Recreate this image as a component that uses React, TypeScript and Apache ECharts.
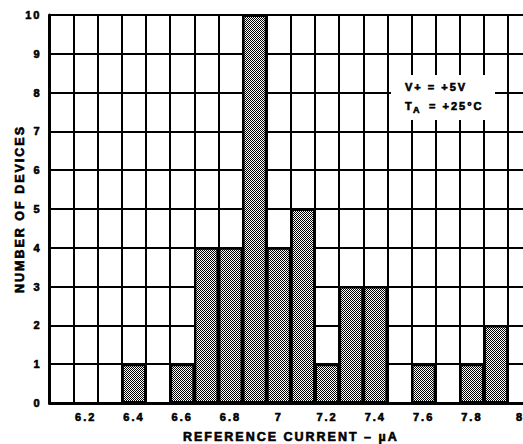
import React, { useEffect, useRef } from "react";
import * as echarts from "echarts";

const categories = [
  "6.1", "6.2", "6.3", "6.4", "6.5", "6.6", "6.7", "6.8", "6.9", "7",
  "7.1", "7.2", "7.3", "7.4", "7.5", "7.6", "7.7", "7.8", "7.9", "8",
];
const deviceCounts = [0, 0, 0, 1, 0, 1, 4, 4, 10, 4, 5, 1, 3, 3, 0, 1, 0, 1, 2, 0];
const yMin = 0;
const yMax = 10;
const yInterval = 1;
const xTitle = "REFERENCE CURRENT – µA";
const yTitle = "NUMBER OF DEVICES";
const noteLine1 = "V+ = +5V";
const noteLine2T = "T";
const noteLine2Sub = "A";
const noteLine2Rest = "= +25°C";

const FONT = "'Liberation Sans', Arial, Helvetica, sans-serif";

export default function App() {
  const ref = useRef<HTMLDivElement>(null);

  useEffect(() => {
    if (!ref.current) return;
    const chart = echarts.init(ref.current, null, { renderer: "svg" });

    const cv = document.createElement("canvas");
    cv.width = 2;
    cv.height = 2;
    const ctx = cv.getContext("2d")!;
    ctx.fillStyle = "#ffffff";
    ctx.fillRect(0, 0, 2, 2);
    ctx.fillStyle = "#000000";
    ctx.fillRect(0, 0, 1, 1);
    ctx.fillRect(1, 1, 1, 1);

    const textBase = {
      color: "#000",
      fontFamily: FONT,
      fontWeight: "bold" as const,
      textBorderColor: "#000",
      textBorderWidth: 0.6,
    };
    const noteStyle = {
      fill: "#000",
      stroke: "#000",
      lineWidth: 0.6,
      verticalAlign: "middle" as const,
    };

    chart.setOption({
      animation: false,
      backgroundColor: "#ffffff",
      grid: {
        left: 49.5,
        right: -9.2,
        top: 15,
        bottom: 41,
        containLabel: false,
        outerBoundsMode: "none",
      },
      xAxis: {
        type: "category",
        data: categories,
        boundaryGap: true,
        axisLine: { show: true, lineStyle: { color: "#000", width: 3 } },
        axisTick: { show: false },
        axisLabel: {
          ...textBase,
          fontSize: 11,
          margin: 8,
          interval: (index: number) => index % 2 === 1,
        },
        splitLine: {
          show: true,
          interval: 0,
          lineStyle: { color: "#000", width: 2 },
        },
        name: xTitle,
        nameLocation: "middle",
        nameGap: 27,
        nameMoveOverlap: false,
        nameTextStyle: { ...textBase, fontSize: 12.5 },
      },
      yAxis: {
        type: "value",
        min: yMin,
        max: yMax,
        interval: yInterval,
        axisLine: { show: true, lineStyle: { color: "#000", width: 3 } },
        axisTick: { show: false },
        axisLabel: { ...textBase, fontSize: 11, margin: 8 },
        splitLine: { show: true, lineStyle: { color: "#000", width: 2 } },
        name: yTitle,
        nameLocation: "middle",
        nameGap: 23,
        nameMoveOverlap: false,
        nameTextStyle: { ...textBase, fontSize: 12.5 },
      },
      series: [
        {
          type: "bar",
          data: deviceCounts,
          barCategoryGap: "0%",
          itemStyle: {
            color: { image: cv, repeat: "repeat" },
            borderColor: "#000",
            borderWidth: 2,
          },
        },
      ],
      graphic: [
        {
          type: "rect",
          left: 391,
          top: 75,
          shape: { width: 104, height: 45 },
          style: { fill: "#ffffff" },
          z: 100,
        },
        {
          type: "text",
          x: 405,
          y: 87,
          z: 101,
          style: { ...noteStyle, text: noteLine1, font: `bold 11px ${FONT}` },
        },
        {
          type: "text",
          x: 405,
          y: 106,
          z: 101,
          style: { ...noteStyle, text: noteLine2T, font: `bold 11px ${FONT}` },
        },
        {
          type: "text",
          x: 413,
          y: 109.5,
          z: 101,
          style: { ...noteStyle, text: noteLine2Sub, font: `bold 9px ${FONT}` },
        },
        {
          type: "text",
          x: 429,
          y: 106,
          z: 101,
          style: { ...noteStyle, text: noteLine2Rest, font: `bold 11px ${FONT}` },
        },
      ],
    });

    return () => chart.dispose();
  }, []);

  return (
    <div
      style={{
        position: "fixed",
        left: 0,
        top: 0,
        width: 523,
        height: 444,
        background: "#fff",
        overflow: "hidden",
      }}
    >
      <style>{`.histo-chart text { letter-spacing: 2px; }`}</style>
      <div className="histo-chart" ref={ref} style={{ width: 523, height: 444 }} />
    </div>
  );
}
